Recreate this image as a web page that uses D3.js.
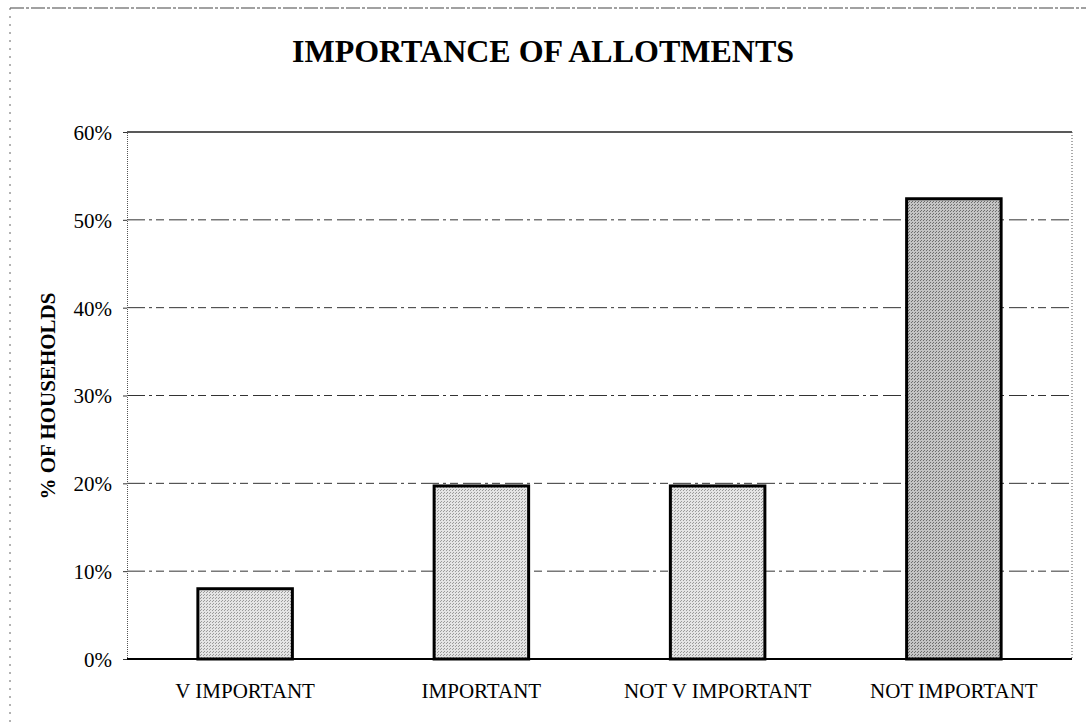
<!DOCTYPE html>
<html>
<head>
<meta charset="utf-8">
<script src="https://cdn.jsdelivr.net/npm/d3@7"></script>
<style>
  body { margin: 0; background: #fff; }
  text { font-family: "Liberation Serif", "Times New Roman", serif; fill: #000; }
</style>
</head>
<body>
<svg id="chart" width="1086" height="727"></svg>
<script>
// data
const categories = ["V IMPORTANT", "IMPORTANT", "NOT V IMPORTANT", "NOT IMPORTANT"];
const percentValues = [8.0, 19.7, 19.7, 52.4];
const yTicks = [0, 10, 20, 30, 40, 50, 60];

const svg = d3.select("#chart");
const margin = { left: 127, right: 14, top: 132, bottom: 68 };
const W = 1086, H = 727;

// stipple patterns for bars
const defs = svg.append("defs");
function stipple(id, bg, dot) {
  const p = defs.append("pattern").attr("id", id)
    .attr("width", 3).attr("height", 3).attr("patternUnits", "userSpaceOnUse");
  p.append("rect").attr("width", 3).attr("height", 3).attr("fill", bg);
  p.append("rect").attr("width", 1).attr("height", 1).attr("fill", dot);
  p.append("rect").attr("x", 2).attr("y", 1).attr("width", 1).attr("height", 1).attr("fill", dot);
}
stipple("light", "#e4e4e4", "#9a9a9a");
stipple("dark", "#c4c4c4", "#6e6e6e");

// outer frame (scanned border)
svg.append("line").attr("x1", 10).attr("x2", W).attr("y1", 8).attr("y2", 8)
  .attr("stroke", "#444").attr("stroke-width", 1.2).attr("stroke-dasharray", "14,2,3,2");
svg.append("line").attr("x1", 10).attr("x2", 10).attr("y1", 8).attr("y2", H)
  .attr("stroke", "#666").attr("stroke-width", 1).attr("stroke-dasharray", "2,6");

const x = d3.scaleBand().domain(categories)
  .range([margin.left, W - margin.right]).paddingInner(0.6).paddingOuter(0.3);
const y = d3.scaleLinear().domain([0, 60]).range([H - margin.bottom, margin.top]);

// gridlines
svg.append("g").selectAll("line").data(yTicks.filter(d => d > 0 && d < 60)).join("line")
  .attr("x1", margin.left).attr("x2", W - margin.right)
  .attr("y1", d => y(d)).attr("y2", d => y(d))
  .attr("stroke", "#333").attr("stroke-width", 1)
  .attr("stroke-dasharray", "18,4,3,4,8,5");
// top border line of plot
svg.append("line").attr("x1", margin.left).attr("x2", W - margin.right)
  .attr("y1", y(60)).attr("y2", y(60)).attr("stroke", "#222").attr("stroke-width", 1.3);
// right border dotted
svg.append("line").attr("x1", W - margin.right).attr("x2", W - margin.right)
  .attr("y1", y(60)).attr("y2", y(0)).attr("stroke", "#555").attr("stroke-width", 1)
  .attr("stroke-dasharray", "1,2");

// y axis
const yAxis = svg.append("g").attr("transform", `translate(${margin.left},0)`)
  .call(d3.axisLeft(y).tickValues(yTicks).tickSize(4).tickFormat(d => d + "%"));
yAxis.attr("font-family", null).attr("font-size", null);
yAxis.select(".domain").attr("stroke", "#555").attr("stroke-dasharray", "1,1");
yAxis.selectAll(".tick line").attr("stroke", "#333");
yAxis.selectAll("text").style("font-size", "21px").attr("x", -15).attr("dy", "0.35em");

// bars
svg.append("g").selectAll("rect").data(percentValues).join("rect")
  .attr("x", (d, i) => x(categories[i]))
  .attr("width", x.bandwidth())
  .attr("y", d => y(d))
  .attr("height", d => y(0) - y(d))
  .attr("fill", (d, i) => i === 3 ? "url(#dark)" : "url(#light)")
  .attr("stroke", "#000").attr("stroke-width", 3);

// baseline
svg.append("line").attr("x1", margin.left).attr("x2", W - margin.right)
  .attr("y1", y(0)).attr("y2", y(0)).attr("stroke", "#000").attr("stroke-width", 2);

// x labels
svg.append("g").selectAll("text").data(categories).join("text")
  .attr("x", d => x(d) + x.bandwidth() / 2)
  .attr("y", 698)
  .attr("text-anchor", "middle")
  .style("font-size", "21px")
  .text(d => d);

// title
svg.append("text").attr("x", 543).attr("y", 62).attr("text-anchor", "middle")
  .style("font-size", "32px").attr("font-weight", "bold").text("IMPORTANCE OF ALLOTMENTS");

// y label
svg.append("text").attr("transform", "translate(55,396) rotate(-90)")
  .attr("text-anchor", "middle").style("font-size", "21px").attr("font-weight", "bold")
  .text("% OF HOUSEHOLDS");
</script>
</body>
</html>
